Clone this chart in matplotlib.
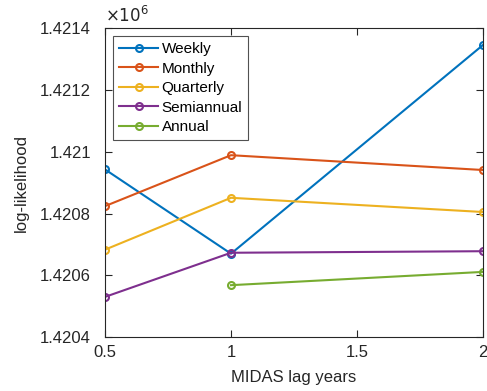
import numpy as np
import matplotlib
matplotlib.use('Agg')
import matplotlib.pyplot as plt
from matplotlib.ticker import FuncFormatter

plt.rcParams['font.family'] = ['Liberation Sans', 'DejaVu Sans']

lag_years = [0.5, 1, 2]
weekly = [1420943, 1420670, 1421346]
monthly = [1420824, 1420989, 1420941]
quarterly = [1420683, 1420851, 1420805]
semiannual = [1420530, 1420673, 1420678]
annual_x = [1, 2]
annual = [1420568, 1420611]

series = [
    ('Weekly', lag_years, weekly, '#0072BD'),
    ('Monthly', lag_years, monthly, '#D95319'),
    ('Quarterly', lag_years, quarterly, '#EDB120'),
    ('Semiannual', lag_years, semiannual, '#7E2F8E'),
    ('Annual', annual_x, annual, '#77AC30'),
]

fig = plt.figure(figsize=(4.87, 3.91), dpi=100)
ax = fig.add_axes([0.2156, 0.138, 0.7762, 0.7896])

for name, xs, ys, col in series:
    ax.plot(xs, ys, '-o', color=col, lw=1.5, ms=5, mfc='none', mew=1.5,
            label=name)

ax.set_xlim(0.5, 2)
ax.set_ylim(1420400, 1421400)
ax.set_xticks([0.5, 1, 1.5, 2])
ax.set_xticklabels(['0.5', '1', '1.5', '2'])
ax.set_yticks(np.arange(1420400, 1421401, 200))
ax.yaxis.set_major_formatter(FuncFormatter(lambda v, p: '%g' % (v / 1e6)))

axc = '#262626'
for s in ax.spines.values():
    s.set_color(axc)
    s.set_linewidth(0.8)
ax.tick_params(direction='in', length=5, width=0.8, colors=axc,
               labelsize=12, top=True, right=True)
ax.tick_params(axis='y', pad=10)
ax.tick_params(axis='x', pad=6)

ax.set_xlabel('MIDAS lag years', fontsize=12, color=axc, labelpad=7)
ax.set_ylabel('log-likelihood', fontsize=12, color=axc, labelpad=8)
ax.text(0.0, 1.01, r'$\times10^{6}$', transform=ax.transAxes,
        ha='left', va='bottom', fontsize=12, color=axc)

leg = ax.legend(loc='upper left', fontsize=11, frameon=True, fancybox=False,
                edgecolor=axc, handlelength=2.6, labelspacing=0.36,
                borderaxespad=0.5, handletextpad=0.2, borderpad=0.4)
leg.get_frame().set_linewidth(0.8)

plt.savefig('out.png', dpi=100)
